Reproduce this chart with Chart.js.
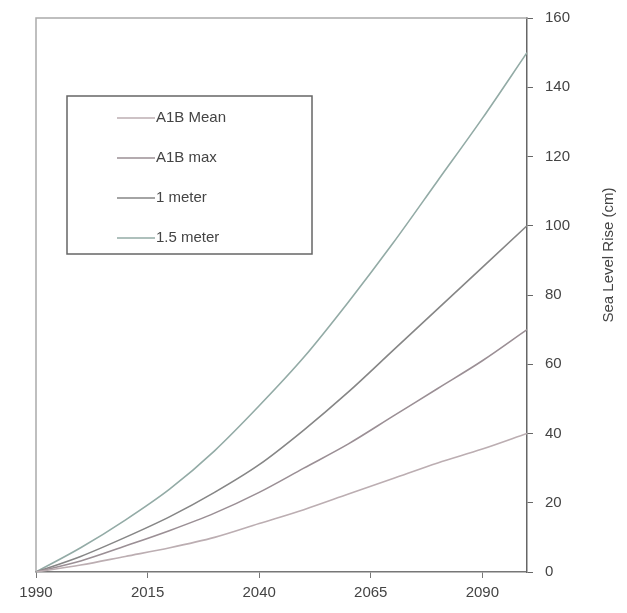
<!DOCTYPE html>
<html>
<head>
<meta charset="utf-8">
<script src="https://cdn.jsdelivr.net/npm/chart.js@4.4.1/dist/chart.umd.min.js"></script>
<style>
  body { margin: 0; background: #fff; }
  #wrap { width: 627px; height: 613px; }
</style>
</head>
<body>
<div id="wrap"><canvas id="slrChart" width="627" height="613"></canvas></div>
<script>
// --- data ---
const years = [1990, 2000, 2010, 2020, 2030, 2040, 2050, 2060, 2070, 2080, 2090, 2100];
const a1bMean = [0, 2, 4.5, 7, 10, 14, 18, 22.5, 27, 31.5, 35.5, 40];
const a1bMax = [0, 3.2, 7.5, 12, 17, 23, 30, 37, 45, 53, 61, 70];
const oneMeter = [0, 4.5, 10, 16, 23, 31, 41, 52, 64, 76, 88, 100];
const onePointFive = [0, 7, 15, 24, 35, 48, 62, 78, 95, 113, 131, 150];
const seriesNames = ['A1B Mean', 'A1B max', '1 meter', '1.5 meter'];
const xTicks = [1990, 2015, 2040, 2065, 2090];
const yTicks = [0, 20, 40, 60, 80, 100, 120, 140, 160];

const FONT = "'Liberation Sans', Arial, sans-serif";
const TXT = '#444';

function toPoints(vals) {
  return vals.map((v, i) => ({ x: years[i], y: v }));
}

// frame lines, legend box and the axis title (title reads bottom -> top)
const extras = {
  id: 'extras',
  afterDraw(chart) {
    const ctx = chart.ctx;
    const a = chart.chartArea;
    ctx.save();
    // top + left frame
    ctx.strokeStyle = '#aaa';
    ctx.lineWidth = 1.5;
    ctx.beginPath();
    ctx.moveTo(a.left, a.bottom);
    ctx.lineTo(a.left, a.top);
    ctx.lineTo(a.right, a.top);
    ctx.stroke();

    // legend box
    ctx.strokeStyle = '#666';
    ctx.lineWidth = 1.5;
    ctx.strokeRect(67, 96, 245, 158);
    ctx.font = '15px ' + FONT;
    ctx.fillStyle = TXT;
    ctx.textBaseline = 'middle';
    chart.data.datasets.forEach((ds, i) => {
      const y = 118 + i * 40;
      ctx.strokeStyle = ds.borderColor;
      ctx.lineWidth = 1.5;
      ctx.beginPath();
      ctx.moveTo(117, y);
      ctx.lineTo(155, y);
      ctx.stroke();
      ctx.fillText(ds.label, 156, y);
    });

    // y axis title
    ctx.translate(609, 255);
    ctx.rotate(-Math.PI / 2);
    ctx.textAlign = 'center';
    ctx.fillText('Sea Level Rise (cm)', 0, 0);
    ctx.restore();
  }
};

const ctx = document.getElementById('slrChart').getContext('2d');
const colors = ['#bcaeb2', '#9b8f95', '#868686', '#93aba6'];
const allSeries = [a1bMean, a1bMax, oneMeter, onePointFive];

new Chart(ctx, {
  type: 'line',
  data: {
    datasets: allSeries.map((vals, i) => ({
      label: seriesNames[i],
      data: toPoints(vals),
      borderColor: colors[i],
      borderWidth: 1.6,
      pointRadius: 0,
      cubicInterpolationMode: 'monotone',
      fill: false
    }))
  },
  options: {
    responsive: false,
    animation: false,
    layout: { padding: { left: 36, top: 16, right: 45, bottom: 5 } },
    plugins: { legend: { display: false }, tooltip: { enabled: false } },
    scales: {
      x: {
        type: 'linear',
        min: 1990,
        max: 2100,
        afterBuildTicks: (s) => { s.ticks = xTicks.map(v => ({ value: v })); },
        grid: { drawOnChartArea: false, tickLength: 6, color: '#777' },
        border: { color: '#777', width: 1.5 },
        ticks: { font: { family: FONT, size: 15 }, color: TXT, padding: 6, callback: (v) => String(v) }
      },
      y: {
        position: 'right',
        min: 0,
        max: 160,
        afterBuildTicks: (s) => { s.ticks = yTicks.map(v => ({ value: v })); },
        grid: { drawOnChartArea: false, tickLength: 6, color: '#666' },
        border: { color: '#666', width: 1.5 },
        ticks: { font: { family: FONT, size: 15, lineHeight: 0.8 }, color: TXT, padding: 12 }
      }
    }
  },
  plugins: [extras]
});
</script>
</body>
</html>
